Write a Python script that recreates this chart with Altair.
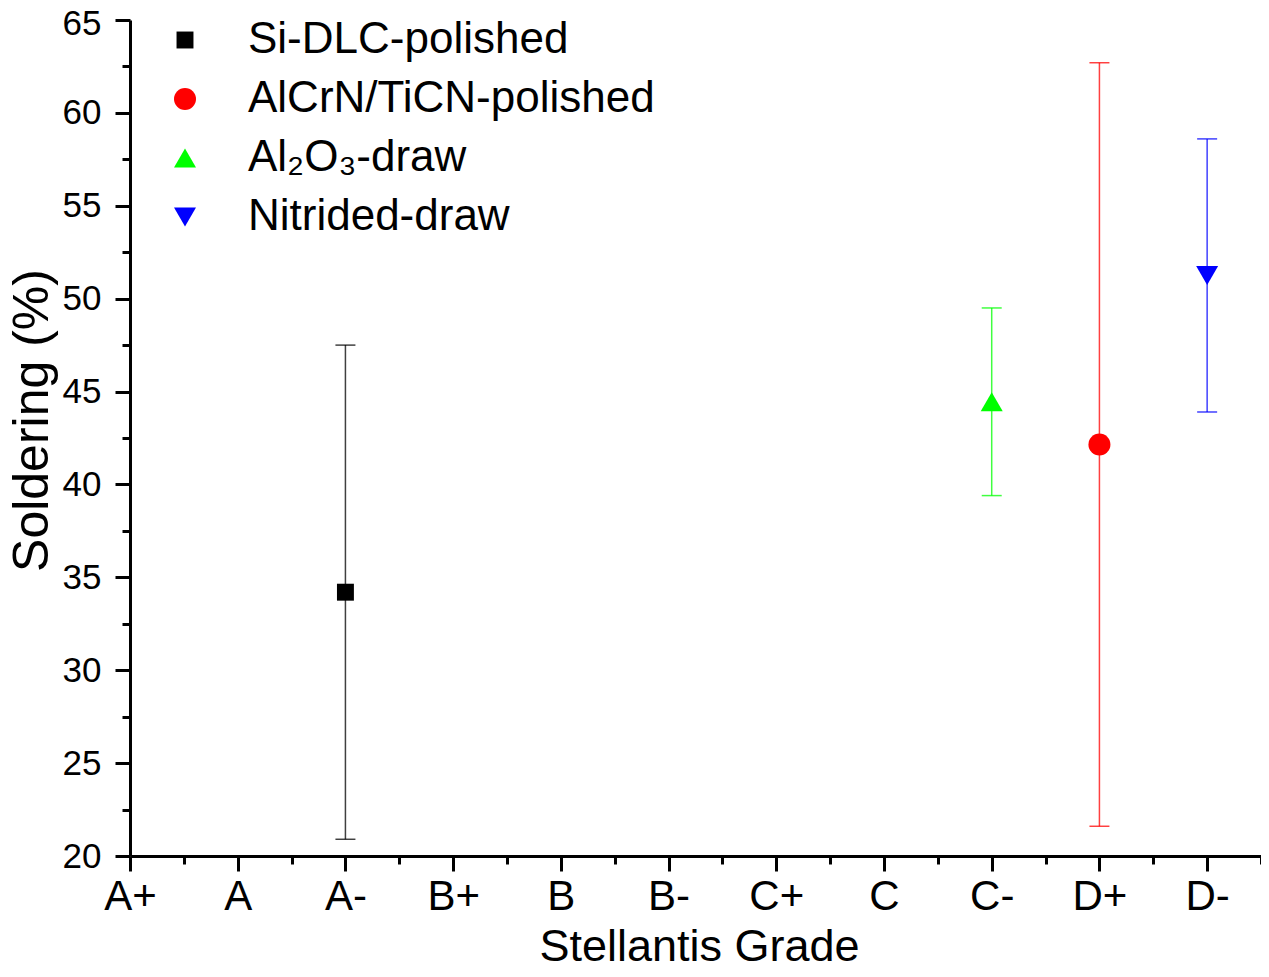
import altair as alt
import pandas as pd

grades = ["A+", "A", "A-", "B+", "B", "B-", "C+", "C", "C-", "D+", "D-"]
series = ["Si-DLC-polished", "AlCrN/TiCN-polished", "Al\u2082O\u2083-draw", "Nitrided-draw"]
series_grade = ["A-", "D+", "C-", "D-"]
means = [34.2, 42.15, 44.45, 51.25]
errs = [13.3, 20.55, 5.05, 7.35]
colors = ["#000000", "#ff0000", "#00ff00", "#0000ff"]
shapes = ["M-0.77,-0.77H0.77V0.77H-0.77Z", "circle", "triangle-up", "triangle-down"]

df = pd.DataFrame({
    "series": series,
    "pos": [grades.index(g) for g in series_grade],
    "mean": means,
    "err": errs,
})
df["low"] = df["mean"] - df["err"]
df["high"] = df["mean"] + df["err"]

FONT = "Liberation Sans"
grade_js = "[" + ",".join("'" + g + "'" for g in grades) + "]"

x_axis = alt.Axis(
    values=[i * 0.5 for i in range(0, 22)],
    labelExpr=f"datum.value % 1 === 0 ? {grade_js}[datum.value] : ''",
    tickSize={"condition": {"test": "datum.value % 1 === 0", "value": 15}, "value": 8},
    tickWidth=3, tickColor="black", domainWidth=3, domainColor="black",
    labelFont=FONT, labelFontSize=42, labelColor="black", labelPadding=5,
    labelFlush=False, labelOverlap=False, grid=False,
    title="Stellantis Grade", titleFont=FONT, titleFontSize=45, titleFontWeight="normal",
    titleColor="black", titleX=569, titleY=104, titleBaseline="alphabetic", titleAlign="center",
)
y_axis = alt.Axis(
    values=[20 + i * 2.5 for i in range(0, 19)],
    labelExpr="datum.value % 5 === 0 ? datum.label : ''",
    labelOffset={"condition": {"test": "datum.value === 65", "value": 3}, "value": 0},
    tickSize={"condition": {"test": "datum.value % 5 === 0", "value": 15}, "value": 8},
    tickWidth=3, tickColor="black", domainWidth=3, domainColor="black",
    labelFont=FONT, labelFontSize=35, labelColor="black", labelPadding=14,
    labelFlush=False, labelOverlap=False, grid=False,
    title="Soldering (%)", titleFont=FONT, titleFontSize=50, titleFontWeight="normal",
    titleColor="black", titleX=-83, titleY=400, titleAngle=270,
    titleBaseline="alphabetic", titleAlign="center",
)

xs = alt.Scale(domain=[0, 10.5], nice=False, zero=False)
ys = alt.Scale(domain=[20, 65], nice=False, zero=False)
cs = alt.Scale(domain=series, range=colors)
ss = alt.Scale(domain=series, range=shapes)

legend = alt.Legend(
    title=None, orient="none", legendX=33, legendY=-2, padding=0,
    labelFont=FONT, labelFontSize=44, labelColor="black", labelLimit=1000,
    labelOffset=41, symbolSize=484, rowPadding=15, symbolStrokeWidth=0, symbolOpacity=1,
)

base = alt.Chart(df)

rules = base.mark_rule(strokeWidth=1.5, opacity=0.75).encode(
    x=alt.X("pos:Q", scale=xs, axis=x_axis),
    y=alt.Y("low:Q", scale=ys, axis=y_axis),
    y2="high:Q",
    color=alt.Color("series:N", scale=cs, legend=legend),
)
cap_lo = base.mark_tick(orient="horizontal", size=20, thickness=1.5, opacity=0.75).encode(
    x=alt.X("pos:Q", scale=xs),
    y=alt.Y("low:Q", scale=ys),
    color=alt.Color("series:N", scale=cs, legend=legend),
)
cap_hi = base.mark_tick(orient="horizontal", size=20, thickness=1.5, opacity=0.75).encode(
    x=alt.X("pos:Q", scale=xs),
    y=alt.Y("high:Q", scale=ys),
    color=alt.Color("series:N", scale=cs, legend=legend),
)
points = base.mark_point(filled=True, size=484, opacity=1).encode(
    x=alt.X("pos:Q", scale=xs),
    y=alt.Y("mean:Q", scale=ys),
    color=alt.Color("series:N", scale=cs, legend=legend),
    shape=alt.Shape("series:N", scale=ss, legend=legend),
)

chart = alt.layer(rules, cap_lo, cap_hi, points).properties(
    width=1131, height=836,
    autosize=alt.AutoSizeParams(type="none"),
    padding={"left": 122, "top": 12, "right": 0, "bottom": 113},
    background="white",
).configure_view(stroke=None)

chart.save("out.html", embed_options={"renderer": "svg", "actions": False})
